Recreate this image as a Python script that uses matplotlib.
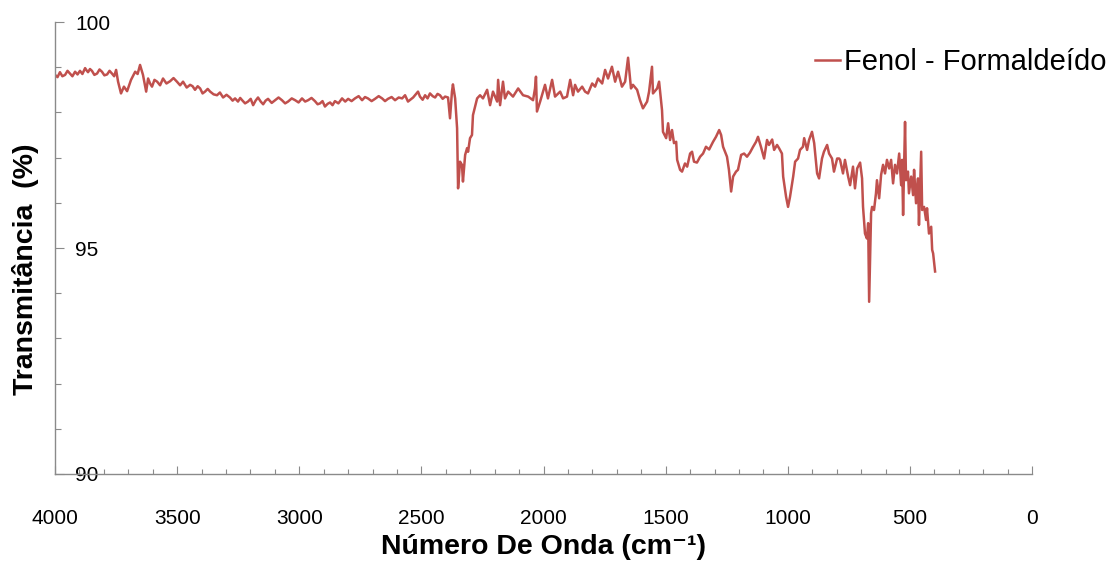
import matplotlib
matplotlib.use("Agg")
import matplotlib.pyplot as plt
from matplotlib import ticker

# FTIR spectrum of the phenol-formaldehyde resin, (wavenumber cm-1, %T)
# split by spectral region
region_oh = [
    (4000, 98.83), (3990, 98.78), (3980, 98.89), (3970, 98.80), (3959, 98.83),
    (3949, 98.92), (3939, 98.86), (3929, 98.80), (3918, 98.90), (3908, 98.84),
    (3898, 98.92), (3888, 98.85), (3877, 98.98), (3871, 98.93), (3865, 98.89),
    (3857, 98.96), (3849, 98.92), (3839, 98.83), (3828, 98.86), (3818, 98.95),
    (3808, 98.90), (3798, 98.82), (3787, 98.84), (3777, 98.92), (3767, 98.86),
    (3758, 98.80), (3750, 98.94), (3742, 98.68), (3730, 98.42), (3718, 98.57),
    (3705, 98.47), (3689, 98.72), (3672, 98.90), (3662, 98.85), (3652, 99.05),
    (3640, 98.83), (3627, 98.46), (3619, 98.75), (3611, 98.64), (3603, 98.57),
    (3593, 98.72), (3582, 98.68), (3570, 98.60), (3558, 98.75), (3544, 98.64),
    (3529, 98.69), (3515, 98.76), (3501, 98.68), (3488, 98.60), (3476, 98.68),
    (3461, 98.55), (3447, 98.61), (3437, 98.58), (3427, 98.50), (3416, 98.58),
    (3406, 98.53), (3396, 98.42), (3386, 98.46), (3375, 98.52), (3365, 98.46),
    (3351, 98.40), (3337, 98.38), (3325, 98.44), (3312, 98.33), (3298, 98.39),
    (3284, 98.33), (3273, 98.26), (3263, 98.31), (3251, 98.24),
]
region_ch = [
    (3242, 98.32), (3234, 98.27), (3222, 98.20), (3210, 98.24), (3199, 98.30),
    (3189, 98.16), (3179, 98.26), (3169, 98.33), (3158, 98.24), (3148, 98.18),
    (3138, 98.26), (3128, 98.30), (3113, 98.21), (3099, 98.27), (3085, 98.33),
    (3071, 98.27), (3058, 98.20), (3046, 98.24), (3031, 98.31), (3017, 98.27),
    (3003, 98.22), (2989, 98.31), (2976, 98.24), (2964, 98.27), (2950, 98.32),
    (2936, 98.25), (2925, 98.18), (2915, 98.20), (2905, 98.25), (2895, 98.13),
    (2884, 98.19), (2874, 98.22), (2864, 98.16), (2854, 98.25), (2840, 98.20),
    (2825, 98.31), (2812, 98.24), (2800, 98.30), (2786, 98.25), (2772, 98.31),
    (2757, 98.36), (2743, 98.27), (2731, 98.34), (2719, 98.31), (2704, 98.25),
    (2690, 98.30), (2675, 98.36), (2661, 98.31), (2649, 98.25), (2637, 98.30),
    (2622, 98.34), (2608, 98.27), (2593, 98.33), (2579, 98.31), (2567, 98.38),
    (2555, 98.24), (2534, 98.33), (2514, 98.46),
]
region_co2 = [
    (2506, 98.35), (2495, 98.28), (2485, 98.38), (2475, 98.31), (2465, 98.42),
    (2454, 98.36), (2444, 98.33), (2434, 98.41), (2424, 98.38), (2413, 98.30),
    (2403, 98.35), (2391, 98.33), (2383, 97.87), (2375, 98.46), (2371, 98.62),
    (2362, 98.31), (2354, 97.65), (2350, 96.32), (2342, 96.91), (2334, 96.84),
    (2330, 96.47), (2321, 97.06), (2313, 97.21), (2309, 97.13), (2301, 97.43),
    (2293, 97.50), (2289, 97.94), (2272, 98.31), (2260, 98.38), (2248, 98.31),
    (2231, 98.50), (2219, 98.16), (2207, 98.46), (2190, 98.24), (2186, 98.72),
    (2178, 98.16), (2166, 98.68), (2158, 98.31), (2145, 98.46), (2125, 98.35),
    (2104, 98.53), (2084, 98.38), (2063, 98.35), (2043, 98.27), (2035, 98.53),
    (2031, 98.79), (2027, 98.02), (2014, 98.24), (1994, 98.61), (1982, 98.31),
    (1965, 98.72), (1953, 98.35), (1932, 98.46), (1920, 98.31), (1904, 98.35),
    (1891, 98.72), (1879, 98.38), (1871, 98.61), (1859, 98.46), (1842, 98.57),
    (1830, 98.46), (1818, 98.42), (1801, 98.64), (1789, 98.57), (1777, 98.75),
    (1760, 98.64), (1748, 98.94), (1736, 98.75), (1720, 99.01), (1707, 98.68),
    (1695, 98.90), (1679, 98.57), (1666, 98.68), (1654, 99.21), (1642, 98.53),
    (1634, 98.61), (1617, 98.50), (1605, 98.27), (1593, 98.09), (1576, 98.24),
    (1568, 98.46), (1556, 99.01), (1552, 98.42), (1535, 98.53), (1527, 98.68),
]
region_fingerprint = [
    (1515, 98.05), (1511, 97.57), (1498, 97.43), (1490, 97.76), (1482, 97.39),
    (1474, 97.61), (1466, 97.32), (1457, 97.35), (1453, 96.95), (1441, 96.73),
    (1433, 96.69), (1421, 96.87), (1412, 96.80), (1400, 97.09), (1392, 97.13),
    (1384, 96.91), (1372, 96.89), (1359, 97.02), (1347, 97.09), (1335, 97.24),
    (1322, 97.18), (1306, 97.35), (1294, 97.46), (1281, 97.61), (1273, 97.50),
    (1265, 97.24), (1249, 97.02), (1241, 96.73), (1232, 96.25), (1224, 96.58),
    (1212, 96.69), (1204, 96.73), (1191, 97.06), (1179, 97.09), (1167, 97.02),
    (1155, 97.11), (1142, 97.24), (1130, 97.35), (1122, 97.46), (1110, 97.24),
    (1097, 96.98), (1085, 97.39), (1077, 97.28), (1064, 97.40), (1056, 97.17),
    (1044, 97.28), (1036, 97.21), (1024, 97.09), (1019, 96.58), (1007, 96.13),
    (999, 95.91), (991, 96.13), (978, 96.58), (970, 96.91), (958, 96.98),
    (950, 97.17), (938, 97.24), (933, 97.43), (921, 97.17), (913, 97.39),
    (901, 97.57), (892, 97.32), (880, 96.65), (872, 96.54), (860, 96.98),
    (852, 97.13), (839, 97.28), (831, 97.09), (819, 96.98), (811, 96.69),
    (798, 96.98), (790, 96.98),
]
region_low = [
    (786, 96.95), (774, 96.65), (766, 96.95), (753, 96.58), (745, 96.39),
    (733, 96.80), (725, 96.32), (716, 96.76), (704, 96.89), (696, 96.54),
    (692, 95.91), (684, 95.32), (676, 95.21), (671, 95.55), (667, 93.81),
    (659, 95.77), (655, 95.91), (647, 95.84), (639, 96.21), (635, 96.50),
    (626, 96.10), (618, 96.62), (610, 96.84), (602, 96.65), (594, 96.95),
    (585, 96.76), (577, 96.95), (569, 96.43), (561, 96.84), (553, 96.65),
    (544, 97.09), (536, 96.39), (532, 96.95), (528, 95.73), (520, 97.79),
    (516, 96.50), (508, 96.69), (504, 96.21), (495, 96.58), (487, 96.17),
    (483, 96.73), (475, 95.99), (467, 96.54), (463, 95.51), (454, 97.13),
    (450, 95.84), (442, 95.91), (434, 95.62), (430, 95.88), (422, 95.32),
    (413, 95.47), (409, 94.96), (405, 94.88), (397, 94.48),
]
series_label = "Fenol - Formaldeído"
x_ticks = [4000, 3500, 3000, 2500, 2000, 1500, 1000, 500, 0]
y_ticks = [90, 95, 100]

spectrum = region_oh + region_ch + region_co2 + region_fingerprint + region_low
wavenumber = [p[0] for p in spectrum]
transmittance = [p[1] for p in spectrum]

plt.rcParams["font.family"] = ["Liberation Sans", "DejaVu Sans"]

axis_grey = "#8a8a8a"

fig = plt.figure(figsize=(11.19, 5.63), dpi=100)
ax = fig.add_axes([0.0492, 0.1581, 0.8731, 0.8028])

ax.plot(wavenumber, transmittance, color="#C0504D", lw=1.8, label=series_label)

ax.set_xlim(4000, 0)
ax.set_ylim(90, 100)

# axes: only left and bottom, grey, ticks pointing inward
for side in ["top", "right"]:
    ax.spines[side].set_visible(False)
for side in ["left", "bottom"]:
    ax.spines[side].set_color(axis_grey)
    ax.spines[side].set_linewidth(1.0)

ax.set_xticks(x_ticks)
ax.xaxis.set_minor_locator(ticker.MultipleLocator(100))
ax.set_yticks(y_ticks)
ax.yaxis.set_minor_locator(ticker.MultipleLocator(1))

ax.tick_params(axis="x", which="major", direction="in", length=5.8, width=0.8,
               color=axis_grey, pad=25.5, labelsize=15)
ax.tick_params(axis="x", which="minor", direction="in", length=3.6, width=0.8,
               color=axis_grey)
ax.tick_params(axis="y", which="major", direction="in", length=6.5, width=0.8,
               color=axis_grey, pad=-14.4, labelsize=15)
ax.tick_params(axis="y", which="minor", direction="in", length=4.3, width=0.8,
               color=axis_grey)
for lbl in ax.get_yticklabels():
    lbl.set_horizontalalignment("left")

ax.set_xlabel("Número De Onda (cm\u207b\u00b9)", fontsize=20.5,
              fontweight="bold", va="center")
ax.xaxis.set_label_coords(0.5, -0.1615)
ax.set_ylabel("Transmitância  (%)", fontsize=20.5, fontweight="bold",
              va="center")
ax.yaxis.set_label_coords(-0.0307, 0.4535)

ax.legend(loc="upper left", bbox_to_anchor=(815 / 1119, 1 - 48 / 563),
          bbox_transform=fig.transFigure, frameon=False, fontsize=21,
          handlelength=0.85, handletextpad=0.15, borderpad=0, borderaxespad=0)

fig.savefig("out.png", dpi=100)
